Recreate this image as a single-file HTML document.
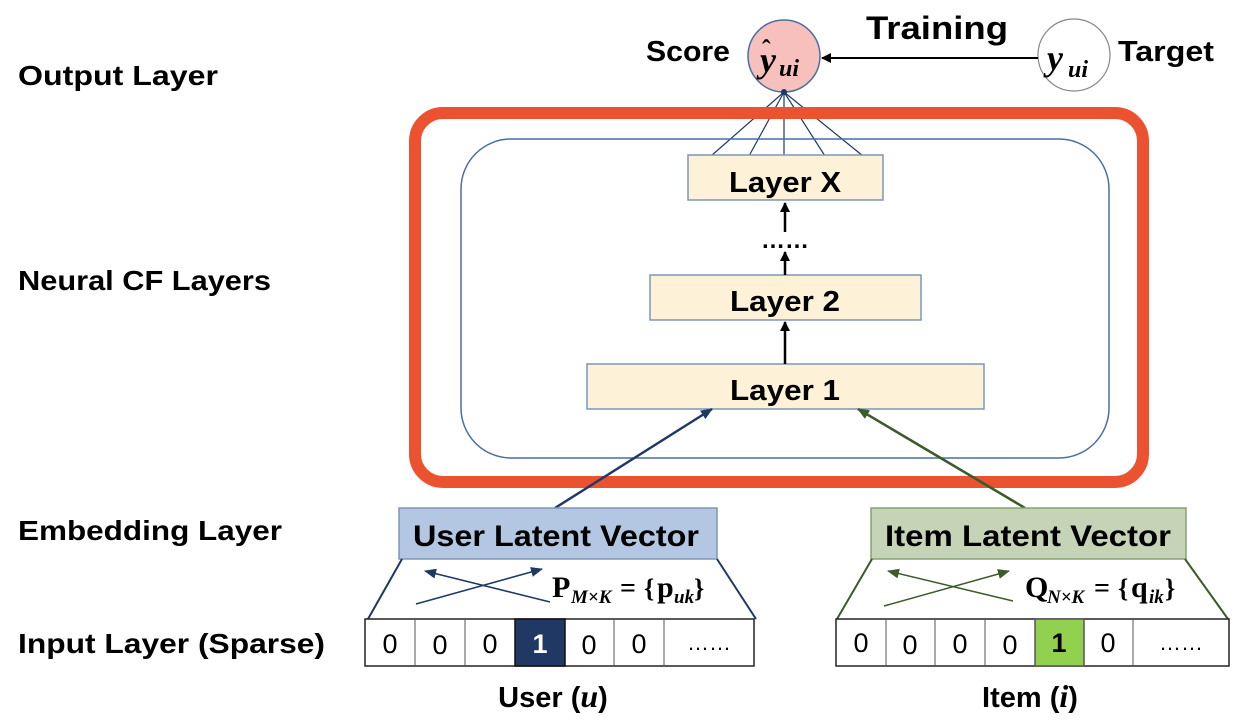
<!DOCTYPE html>
<html><head><meta charset="utf-8"><style>
html,body{margin:0;padding:0;background:#fff;}
svg{display:block;}
text{font-family:"Liberation Sans",sans-serif;font-weight:bold;fill:#000;}
.m{font-family:"Liberation Serif",serif;}
</style></head><body>
<svg width="1238" height="724" viewBox="0 0 1238 724" xmlns="http://www.w3.org/2000/svg">
<defs>
<marker id="ak" markerWidth="10" markerHeight="10" refX="9" refY="5" orient="auto" markerUnits="userSpaceOnUse"><path d="M0,0 L10,5 L0,10 z" fill="#000"/></marker>
<marker id="ab" markerWidth="12" markerHeight="10" refX="11" refY="5" orient="auto" markerUnits="userSpaceOnUse"><path d="M0,0 L12,5 L0,10 z" fill="#1f3864"/></marker>
<marker id="ag" markerWidth="12" markerHeight="10" refX="11" refY="5" orient="auto" markerUnits="userSpaceOnUse"><path d="M0,0 L12,5 L0,10 z" fill="#3d5a2a"/></marker>
</defs>
<!-- left labels -->
<text x="18" y="85" font-size="28" textLength="200" lengthAdjust="spacingAndGlyphs">Output Layer</text>
<text x="18" y="290" font-size="28" textLength="253" lengthAdjust="spacingAndGlyphs">Neural CF Layers</text>
<text x="18" y="540" font-size="28" textLength="264" lengthAdjust="spacingAndGlyphs">Embedding Layer</text>
<text x="18" y="653" font-size="28" textLength="307" lengthAdjust="spacingAndGlyphs">Input Layer (Sparse)</text>

<!-- output -->
<text x="646" y="61" font-size="29" textLength="84" lengthAdjust="spacingAndGlyphs">Score</text>
<circle cx="784" cy="56" r="36" fill="#f8c0bd" stroke="#4a6fa0" stroke-width="1.5"/>
<text x="760" y="72" class="m" font-size="36" font-style="italic">y</text>
<text x="762" y="58" class="m" font-size="26">ˆ</text>
<text x="779" y="76" class="m" font-size="24" font-style="italic">ui</text>
<circle cx="1074" cy="55" r="36" fill="#fff" stroke="#888" stroke-width="1.2"/>
<text x="1047" y="70" class="m" font-size="36" font-style="italic">y</text>
<text x="1068" y="77" class="m" font-size="24" font-style="italic">ui</text>
<text x="1118" y="61" font-size="29" textLength="96" lengthAdjust="spacingAndGlyphs">Target</text>
<text x="866" y="39" font-size="32" textLength="142" lengthAdjust="spacingAndGlyphs">Training</text>
<line x1="1038" y1="58" x2="822" y2="58" stroke="#000" stroke-width="2" marker-end="url(#ak)"/>

<!-- fan lines -->
<g stroke="#1f3864" stroke-width="1.2">
<line x1="784" y1="92" x2="711" y2="156"/>
<line x1="784" y1="92" x2="749" y2="156"/>
<line x1="784" y1="92" x2="784" y2="156"/>
<line x1="784" y1="92" x2="825" y2="156"/>
<line x1="784" y1="92" x2="863" y2="156"/>
</g>
<circle cx="784" cy="92" r="3" fill="#1f3864"/>

<!-- red box -->
<rect x="415" y="113" width="728" height="369" rx="28" fill="none" stroke="#eb5230" stroke-width="12"/>
<!-- blue inner -->
<rect x="461" y="139" width="648" height="319" rx="50" fill="none" stroke="#4a6fa0" stroke-width="1.5"/>

<!-- layers -->
<g fill="#fdf2d8" stroke="#7f95b8" stroke-width="1.5">
<rect x="688" y="155" width="195" height="45"/>
<rect x="650" y="275" width="271" height="45"/>
<rect x="587" y="364" width="397" height="45"/>
</g>
<text x="785" y="192" font-size="29" text-anchor="middle" textLength="112" lengthAdjust="spacingAndGlyphs">Layer X</text>
<text x="785" y="311" font-size="29" text-anchor="middle" textLength="110" lengthAdjust="spacingAndGlyphs">Layer 2</text>
<text x="785" y="400" font-size="29" text-anchor="middle" textLength="110" lengthAdjust="spacingAndGlyphs">Layer 1</text>
<g stroke="#000" stroke-width="2.5">
<line x1="785" y1="364" x2="785" y2="322" marker-end="url(#ak)"/>
<line x1="785" y1="275" x2="785" y2="252" marker-end="url(#ak)"/>
<line x1="785" y1="232" x2="785" y2="203" marker-end="url(#ak)"/>
</g>
<text x="785" y="248" font-size="24" text-anchor="middle">……</text>

<!-- embedding arrows -->
<line x1="555" y1="508" x2="712" y2="409" stroke="#1f3864" stroke-width="2.5" marker-end="url(#ab)"/>
<line x1="1025" y1="508" x2="858" y2="409" stroke="#3d5a2a" stroke-width="2.5" marker-end="url(#ag)"/>

<!-- user embedding -->
<rect x="399" y="508" width="318" height="51" fill="#b4c7e2" stroke="#7f95b8" stroke-width="1.5"/>
<text x="556" y="546" font-size="30" text-anchor="middle" textLength="286" lengthAdjust="spacingAndGlyphs">User Latent Vector</text>
<g stroke="#1f3864" stroke-width="2">
<line x1="402" y1="559" x2="368" y2="619"/>
<line x1="717" y1="559" x2="756" y2="619"/>
</g>
<g stroke="#1f3864" stroke-width="1.5">
<line x1="416" y1="604" x2="542" y2="569" marker-end="url(#ab)"/>
<line x1="550" y1="602" x2="425" y2="571" marker-end="url(#ab)"/>
</g>
<text x="552" y="597" class="m" font-size="30">P</text>
<text x="571" y="603" class="m" font-size="19" font-weight="normal" font-style="italic">M×K</text>
<text x="620" y="597" class="m" font-size="28">=</text>
<text x="644" y="597" class="m" font-size="26" font-weight="normal">{</text>
<text x="657" y="597" class="m" font-size="30">p</text>
<text x="674" y="603" class="m" font-size="19" font-weight="normal" font-style="italic">uk</text>
<text x="694" y="597" class="m" font-size="26" font-weight="normal">}</text>

<rect x="365" y="619" width="389" height="47" fill="#fff" stroke="#222" stroke-width="1.5"/>
<g stroke="#555" stroke-width="1">
<line x1="415" y1="619" x2="415" y2="666"/><line x1="465" y1="619" x2="465" y2="666"/>
<line x1="614" y1="619" x2="614" y2="666"/><line x1="664" y1="619" x2="664" y2="666"/>
</g>
<rect x="515" y="619" width="50" height="47" fill="#203864" stroke="#111" stroke-width="1.5"/>
<g font-size="27" text-anchor="middle">
<text x="390" y="653" style="font-weight:normal">0</text>
<text x="440" y="654" style="font-weight:normal">0</text>
<text x="490" y="653" style="font-weight:normal">0</text>
<text x="540" y="653" style="fill:#fff">1</text>
<text x="589" y="654" style="font-weight:normal">0</text>
<text x="639" y="653" style="font-weight:normal">0</text>
<text x="709" y="650" style="font-weight:normal" font-size="22">……</text>
</g>
<text x="553" y="707" font-size="29" text-anchor="middle">User (<tspan class="m" font-style="italic" font-size="32">u</tspan>)</text>

<!-- item embedding -->
<rect x="871" y="508" width="315" height="51" fill="#c5d3b7" stroke="#8aa070" stroke-width="1.5"/>
<text x="1028" y="546" font-size="30" text-anchor="middle" textLength="286" lengthAdjust="spacingAndGlyphs">Item Latent Vector</text>
<g stroke="#3d5a2a" stroke-width="2">
<line x1="872" y1="559" x2="837" y2="619"/>
<line x1="1185" y1="559" x2="1228" y2="619"/>
</g>
<g stroke="#3d5a2a" stroke-width="1.5">
<line x1="884" y1="606" x2="1009" y2="571" marker-end="url(#ag)"/>
<line x1="1013" y1="601" x2="888" y2="571" marker-end="url(#ag)"/>
</g>
<text x="1025" y="597" class="m" font-size="30">Q</text>
<text x="1047" y="603" class="m" font-size="19" font-weight="normal" font-style="italic">N×K</text>
<text x="1094" y="597" class="m" font-size="28">=</text>
<text x="1118" y="597" class="m" font-size="26" font-weight="normal">{</text>
<text x="1131" y="597" class="m" font-size="30">q</text>
<text x="1149" y="603" class="m" font-size="19" font-weight="normal" font-style="italic">ik</text>
<text x="1165" y="597" class="m" font-size="26" font-weight="normal">}</text>

<rect x="836" y="619" width="393" height="47" fill="#fff" stroke="#222" stroke-width="1.5"/>
<g stroke="#555" stroke-width="1">
<line x1="886" y1="619" x2="886" y2="666"/><line x1="935" y1="619" x2="935" y2="666"/>
<line x1="985" y1="619" x2="985" y2="666"/><line x1="1133" y1="619" x2="1133" y2="666"/>
</g>
<rect x="1035" y="619" width="49" height="47" fill="#92d050" stroke="#555" stroke-width="1.5"/>
<g font-size="27" text-anchor="middle">
<text x="861" y="652" style="font-weight:normal">0</text>
<text x="910" y="654" style="font-weight:normal">0</text>
<text x="960" y="653" style="font-weight:normal">0</text>
<text x="1010" y="654" style="font-weight:normal">0</text>
<text x="1059" y="652">1</text>
<text x="1108" y="652" style="font-weight:normal">0</text>
<text x="1181" y="650" style="font-weight:normal" font-size="22">……</text>
</g>
<text x="1030" y="707" font-size="29" text-anchor="middle">Item (<tspan class="m" font-style="italic" font-size="32">i</tspan>)</text>
</svg>
</body></html>
